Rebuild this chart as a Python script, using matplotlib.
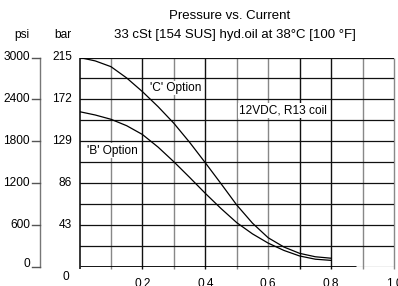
import matplotlib
matplotlib.use("Agg")
import matplotlib.pyplot as plt

plt.rcParams['font.family'] = ['Liberation Sans', 'DejaVu Sans']

# Data (current in A, pressure in bar)
current = [0.0, 0.05, 0.1, 0.15, 0.2, 0.25, 0.3, 0.35, 0.4, 0.45, 0.5, 0.55, 0.6, 0.65, 0.7, 0.75, 0.8]
c_option = [215, 211.5, 205.6, 194, 180, 164.5, 147.5, 128, 107, 85.5, 63.6, 45, 30, 20.5, 14, 10.5, 9]
b_option = [159.4, 156, 151.6, 145, 136, 123, 108, 92, 75.6, 60, 45.5, 34, 24.5, 17, 11.3, 8, 6.8]

bar_ticks = [0, 43, 86, 129, 172, 215]
bar_labels = ["", "43", "86", "129", "172", "215"]
psi_labels = ["0", "600", "1200", "1800", "2400", "3000"]
x_ticks = [0.2, 0.4, 0.6, 0.8, 1.0]
x_labels = ["0.2", "0.4", "0.6", "0.8", "1.0"]

W, H = 398, 286
fig = plt.figure(figsize=(W / 100, H / 100), dpi=100)
ax = fig.add_axes([79.5 / W, (H - 267) / H, (394 - 79.5) / W, (267 - 57.5) / H])
ax.set_xlim(0, 1.0)
ax.set_ylim(0, 215)
ax.set_xticks([])
ax.set_yticks([])
for s in ax.spines.values():
    s.set_visible(False)

# grid
vcolors = ['#000000', '#888888', '#111111', '#888888', '#111111', '#888888',
           '#888888', '#111111', '#111111', '#888888', '#888888']
for i in range(11):
    x = i / 10
    ax.plot([x, x], [-2.2, 215], color=vcolors[i], lw=1.0 if i else 1.1,
            clip_on=False, zorder=1, solid_capstyle='butt')
for j in range(1, 11):
    y = 215 * j / 10
    ax.axhline(y, color='#111111', lw=0.9, zorder=1)
ax.axhline(0, color='#888888', lw=0.9, zorder=1)
ax.plot([0, 0.88], [0, 0], color='black', lw=2.0, zorder=3, solid_capstyle='butt')

# curves
ax.plot(current, c_option, color='black', lw=0.9, zorder=4)
ax.plot(current, b_option, color='black', lw=0.9, zorder=4)

fs = 8.6
bb = dict(facecolor='white', edgecolor='none', pad=1.0)
ax.text(0.224, 183.7, "'C' Option", fontsize=fs, va='center', ha='left', bbox=bb, zorder=5)
ax.text(0.024, 119.4, "'B' Option", fontsize=fs, va='center', ha='left', bbox=bb, zorder=5)
ax.text(0.507, 161, "12VDC, R13 coil", fontsize=fs, va='center', ha='left', bbox=bb, zorder=5)

# x tick labels (clipped at bottom of figure, as in the reference)
for xv, lab in zip(x_ticks, x_labels):
    fig.text((79.5 + xv * 314.5) / W, (H - 278) / H, lab, fontsize=fs, ha='center', va='top')
fig.text(66 / W, (H - 277) / H, "0", fontsize=fs, ha='center', va='center')

# bar labels
for bv, lab in zip(bar_ticks, bar_labels):
    ypx = 267 - bv * 209.5 / 215
    if lab:
        fig.text(72 / W, (H - ypx) / H, lab, fontsize=fs, ha='right', va='center')

# psi axis
fig.add_artist(plt.Line2D([39.5 / W, 39.5 / W], [(H - 57.5) / H, (H - 267) / H],
                          color='#777777', lw=1.0))
for k, lab in enumerate(psi_labels):
    ypx = 267 - k * 209.5 / 5
    fig.add_artist(plt.Line2D([32 / W, 39.5 / W], [(H - ypx) / H, (H - ypx) / H],
                              color='#555555', lw=1.0))
    ty = ypx - 3 if k == 0 else ypx
    fig.text(30 / W, (H - ty) / H, lab, fontsize=fs, ha='right', va='center')

fig.text(22 / W, (H - 35) / H, "psi", fontsize=fs, ha='center', va='center')
fig.text(63 / W, (H - 35) / H, "bar", fontsize=fs, ha='center', va='center')

fig.text(230 / W, (H - 16) / H, "Pressure vs. Current", fontsize=9.5, ha='center', va='center')
fig.text(235 / W, (H - 35) / H, "33 cSt [154 SUS] hyd.oil at 38°C [100 °F]", fontsize=9.5,
         ha='center', va='center')

fig.savefig("out.png", dpi=100)
